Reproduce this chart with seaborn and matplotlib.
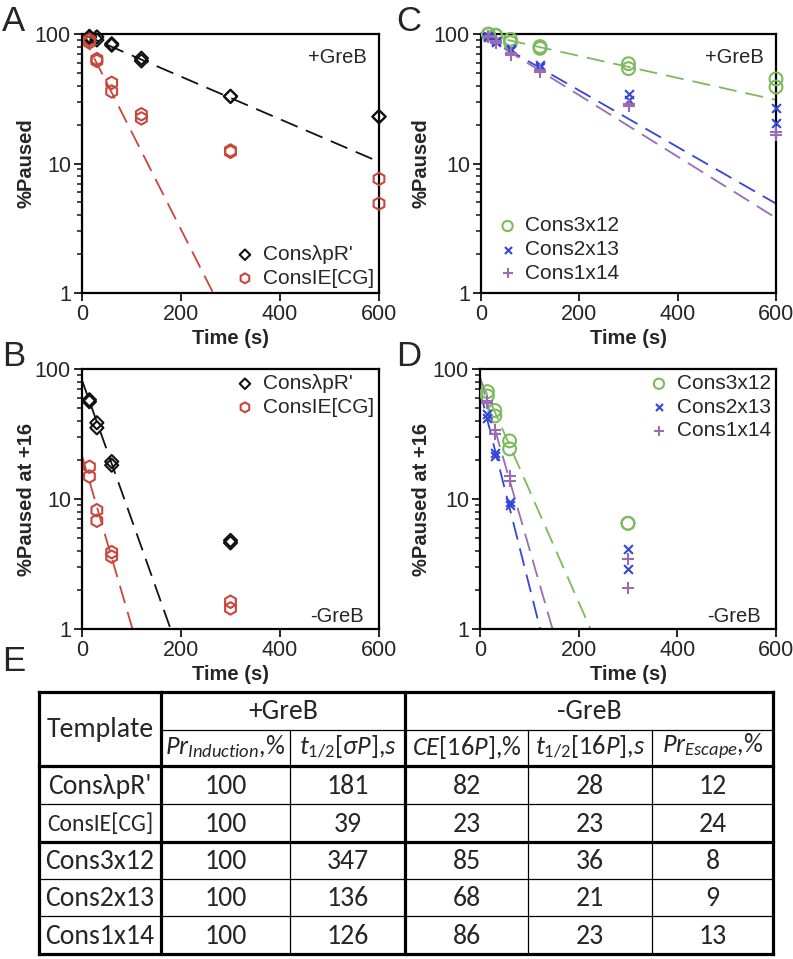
import numpy as np
import pandas as pd
import seaborn as sns
import matplotlib.pyplot as plt
from matplotlib import font_manager
from matplotlib.ticker import NullFormatter, LogLocator

# sampling times (two replicates per time point)
times_greb = [15, 15, 30, 30, 60, 60, 120, 120, 300, 300, 600, 600]
times_nogreb = [15, 15, 30, 30, 60, 60, 300, 300]

# panel A: +GreB, %Paused
a_lpr = [96, 94, 95, 90, 84, 82, 65, 62, 33, 33, 23, 23]
a_ie = [90, 86, 64, 62, 42, 36, 24, 22.3, 12.6, 12.3, 7.6, 4.9]

# panel B: -GreB, %Paused at +16
b_lpr = [58, 56, 38.6, 35.3, 19.4, 18.2, 4.8, 4.6]
b_ie = [17.7, 14.9, 8.2, 6.8, 3.9, 3.6, 1.62, 1.44]

# panel C: +GreB, %Paused
c_3x12 = [100, 99, 98, 97, 91, 86, 80, 77.5, 59, 54, 45, 39]
c_2x13 = [97, 95, 88, 86, 77, 75, 57.6, 56, 34.4, 31, 26.7, 20.6]
c_1x14 = [97, 95, 88, 85, 71, 69, 53, 51, 29, 27.8, 17.4, 16.6]

# panel D: -GreB, %Paused at +16
d_3x12 = [67, 62, 48, 43.5, 28, 24.3, 6.5, 6.5]
d_2x13 = [45, 42, 22.4, 21.4, 9.5, 9.0, 4.1, 2.9]
d_1x14 = [57, 55, 34, 31.6, 14.9, 13.7, 3.45, 2.08]

# fitted decay lines, start and end points (t, %)
fit_a_lpr = ([0, 600], [100, 10.3])
fit_a_ie = ([0, 265], [100, 1])
fit_b_lpr = ([0, 179], [82, 1])
fit_b_ie = ([0, 102], [21.5, 1])
fit_c_3x12 = ([0, 600], [100, 31])
fit_c_2x13 = ([0, 600], [100, 4.9])
fit_c_1x14 = ([0, 600], [100, 3.8])
fit_d_3x12 = ([0, 224], [85, 1])
fit_d_2x13 = ([0, 122], [68, 1])
fit_d_1x14 = ([0, 147], [86, 1])

# panel E: table
templates = ["ConsλpR'", 'ConsIE[CG]', 'Cons3x12', 'Cons2x13', 'Cons1x14']
pr_induction = [100, 100, 100, 100, 100]
t_half_sigma = [181, 39, 347, 136, 126]
ce_16p = [82, 23, 85, 68, 86]
t_half_16p = [28, 23, 36, 21, 23]
pr_escape = [12, 24, 8, 9, 13]

BLACK = '#111111'
RED = '#c9463a'
GREEN = '#7cba5c'
BLUE = '#3445dc'
PURPLE = '#9a6cb3'


def pick_font(names):
    for name in names:
        try:
            font_manager.findfont(name, fallback_to_default=False)
            return name
        except ValueError:
            continue
    return 'DejaVu Sans'


def style_axis(ax, ylabel, label_x):
    ax.set_yscale('log')
    ax.set_xlim(0, 600)
    ax.set_ylim(1, 100)
    ax.set_xticks([0, 200, 400, 600])
    ax.set_yticks([1, 10, 100], labels=['1', '10', '100'])
    ax.yaxis.set_minor_locator(LogLocator(base=10, subs=np.arange(2, 10)))
    ax.yaxis.set_minor_formatter(NullFormatter())
    ax.tick_params(which='major', length=6, width=1.4, labelsize=15.5, pad=2)
    ax.tick_params(which='minor', length=3.5, width=1.2)
    ax.tick_params(axis='x', which='minor', bottom=False)
    for s in ax.spines.values():
        s.set_linewidth(1.6)
        s.set_color('black')
    ax.set_xlabel('Time (s)', fontsize=14.5, fontweight='bold', labelpad=3)
    ax.set_ylabel(ylabel, fontsize=14.5, fontweight='bold')
    ax.yaxis.set_label_coords(label_x, 0.5)


def fit_line(ax, fit, color):
    df = pd.DataFrame({'t': fit[0], 'y': fit[1]})
    sns.lineplot(data=df, x='t', y='y', ax=ax, color=color, linewidth=1.3,
                 linestyle=(0, (10, 5)), legend=False)


def open_points(ax, t, y, marker, color, label, size):
    df = pd.DataFrame({'t': t, 'y': y})
    sns.scatterplot(data=df, x='t', y='y', ax=ax, marker=marker, s=size,
                    facecolor='none', edgecolor=color, linewidth=1.5, label=label,
                    zorder=3, clip_on=False)


def line_points(ax, t, y, marker, color, label, size):
    df = pd.DataFrame({'t': t, 'y': y})
    sns.scatterplot(data=df, x='t', y='y', ax=ax, marker=marker, s=size,
                    color=color, linewidth=1.5, label=label, zorder=3, clip_on=False)


def draw_table(ax, family):
    cols = [39, 161, 290, 405, 528, 652, 773]
    rows = [692, 730, 766, 804, 842, 879, 916, 954]
    ax.set_xlim(cols[0], cols[-1])
    ax.set_ylim(rows[-1], rows[0])
    ax.axis('off')
    thick, thin = 2.3, 0.9
    kw = dict(color='black', solid_capstyle='projecting', clip_on=False)
    for y in [rows[0], rows[2], rows[4], rows[7]]:
        ax.plot([cols[0], cols[-1]], [y, y], lw=thick, **kw)
    ax.plot([cols[1], cols[-1]], [rows[1], rows[1]], lw=thin, **kw)
    for y in [rows[3], rows[5], rows[6]]:
        ax.plot([cols[0], cols[-1]], [y, y], lw=thin, **kw)
    for x in [cols[0], cols[1], cols[3], cols[6]]:
        ax.plot([x, x], [rows[0], rows[-1]], lw=thick, **kw)
    for x in [cols[2], cols[4], cols[5]]:
        ax.plot([x, x], [rows[1], rows[-1]], lw=thin, **kw)

    def mid(a, b):
        return (a + b) / 2

    tk = dict(ha='center', va='center', family=[family, 'DejaVu Sans'])
    ax.text(mid(cols[0], cols[1]), mid(rows[0], rows[2]), 'Template', fontsize=20, **tk)
    ax.text(mid(cols[1], cols[3]), mid(rows[0], rows[1]), '+GreB', fontsize=20, **tk)
    ax.text(mid(cols[3], cols[6]), mid(rows[0], rows[1]), '-GreB', fontsize=20, **tk)
    headers = [r'$\mathit{Pr}_{\mathit{Induction}}\mathit{{,}\%}$',
               r'$\mathit{t}_{\mathit{1/2}}\mathit{[\sigma P]{,}s}$',
               r'$\mathit{CE[16P]{,}\%}$',
               r'$\mathit{t}_{\mathit{1/2}}\mathit{[16P]{,}s}$',
               r'$\mathit{Pr}_{\mathit{Escape}}\mathit{{,}\%}$']
    for i, h in enumerate(headers):
        ax.text(mid(cols[i + 1], cols[i + 2]), mid(rows[1], rows[2]) - 1, h, fontsize=19, **tk)
    columns = [pr_induction, t_half_sigma, ce_16p, t_half_16p, pr_escape]
    for r, name in enumerate(templates):
        yc = mid(rows[r + 2], rows[r + 3]) + 1
        ax.text(mid(cols[0], cols[1]), yc, name, fontsize=17 if name == 'ConsIE[CG]' else 20, **tk)
        for c, values in enumerate(columns):
            ax.text(mid(cols[c + 1], cols[c + 2]), yc, str(values[r]), fontsize=20, **tk)


def main():
    sns.set_theme(style='ticks')
    sans = pick_font(['Liberation Sans', 'Arimo', 'Nimbus Sans', 'Arial', 'Helvetica', 'Roboto'])
    table_font = pick_font(['Carlito', 'Calibri', 'Lato', 'Open Sans'])
    plt.rcParams['font.family'] = [sans, 'DejaVu Sans']
    plt.rcParams['mathtext.fontset'] = 'custom'
    plt.rcParams['mathtext.rm'] = table_font
    plt.rcParams['mathtext.it'] = table_font + ':italic'
    plt.rcParams['mathtext.fallback'] = 'stixsans'

    W, H = 793, 959
    fig = plt.figure(figsize=(W / 100, H / 100), dpi=100)

    def box(x0, y0, x1, y1):
        return fig.add_axes([x0 / W, 1 - y1 / H, (x1 - x0) / W, (y1 - y0) / H])

    ax_a = box(82, 34, 379, 293)
    ax_c = box(481, 34, 776, 293)
    ax_b = box(82, 369, 379, 629)
    ax_d = box(480, 369, 776, 629)
    ax_e = box(39, 692, 773, 954)

    leg = dict(frameon=False, fontsize=15, handletextpad=0.25, labelspacing=0.22,
               handlelength=1.2, borderaxespad=0, borderpad=0.25, markerscale=0.8)

    # A
    fit_line(ax_a, fit_a_lpr, BLACK)
    fit_line(ax_a, fit_a_ie, RED)
    open_points(ax_a, times_greb, a_lpr, 'D', BLACK, "ConsλpR'", 45)
    open_points(ax_a, times_greb, a_ie, 'h', RED, 'ConsIE[CG]', 80)
    style_axis(ax_a, '%Paused', -0.155)
    ax_a.legend(loc='lower right', bbox_to_anchor=(1.0, 0.0), **leg)
    ax_a.text(0.96, 0.91, '+GreB', transform=ax_a.transAxes, ha='right', va='center', fontsize=14.5)

    # B
    fit_line(ax_b, fit_b_lpr, BLACK)
    fit_line(ax_b, fit_b_ie, RED)
    open_points(ax_b, times_nogreb, b_lpr, 'D', BLACK, "ConsλpR'", 45)
    open_points(ax_b, times_nogreb, b_ie, 'h', RED, 'ConsIE[CG]', 80)
    style_axis(ax_b, '%Paused at +16', -0.155)
    ax_b.legend(loc='upper right', bbox_to_anchor=(1.0, 1.0), **leg)
    ax_b.text(0.95, 0.05, '-GreB', transform=ax_b.transAxes, ha='right', va='center', fontsize=14.5)

    # C
    fit_line(ax_c, fit_c_3x12, GREEN)
    fit_line(ax_c, fit_c_2x13, BLUE)
    fit_line(ax_c, fit_c_1x14, PURPLE)
    open_points(ax_c, times_greb, c_3x12, 'o', GREEN, 'Cons3x12', 85)
    line_points(ax_c, times_greb, c_2x13, 'x', BLUE, 'Cons2x13', 40)
    line_points(ax_c, times_greb, c_1x14, '+', PURPLE, 'Cons1x14', 70)
    style_axis(ax_c, '%Paused', -0.17)
    ax_c.legend(loc='lower left', bbox_to_anchor=(0.03, 0.02), **leg)
    ax_c.text(0.96, 0.91, '+GreB', transform=ax_c.transAxes, ha='right', va='center', fontsize=14.5)

    # D
    fit_line(ax_d, fit_d_3x12, GREEN)
    fit_line(ax_d, fit_d_2x13, BLUE)
    fit_line(ax_d, fit_d_1x14, PURPLE)
    open_points(ax_d, times_nogreb, d_3x12, 'o', GREEN, 'Cons3x12', 85)
    line_points(ax_d, times_nogreb, d_2x13, 'x', BLUE, 'Cons2x13', 40)
    line_points(ax_d, times_nogreb, d_1x14, '+', PURPLE, 'Cons1x14', 70)
    style_axis(ax_d, '%Paused at +16', -0.166)
    ax_d.legend(loc='upper right', bbox_to_anchor=(1.0, 1.0), **leg)
    ax_d.text(0.95, 0.05, '-GreB', transform=ax_d.transAxes, ha='right', va='center', fontsize=14.5)

    draw_table(ax_e, table_font)

    for letter, x, y in [('A', 2, 5), ('C', 396, 5), ('B', 2, 340), ('D', 396, 340), ('E', 2, 645)]:
        fig.text(x / W, 1 - y / H, letter, fontsize=25, ha='left', va='top')

    fig.savefig('out.png', dpi=100)


if __name__ == '__main__':
    main()
